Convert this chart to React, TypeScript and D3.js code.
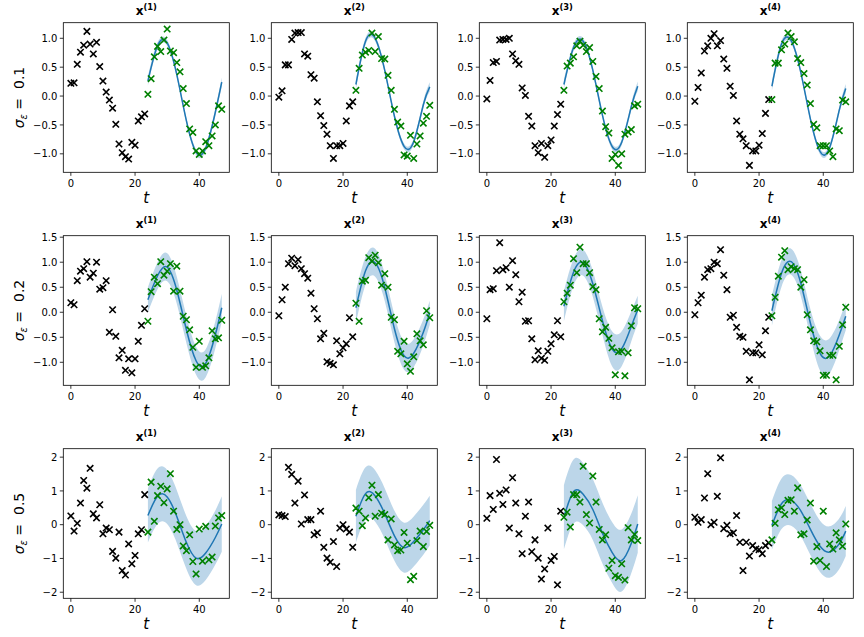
import React from "react";
import * as d3 from "d3";

// ---------- data ----------
const colTitles = ["(1)", "(2)", "(3)", "(4)"];
const noiseLabels = ["0.1", "0.2", "0.5"];
const xTicks = [0, 20, 40];
const knotT = [24, 27, 30, 33, 36, 39, 42, 45, 47];

const yDomains = [
  [-1.32, 1.27],
  [-1.46, 1.53],
  [-2.18, 2.25],
];
const yTicks = [
  [-1, -0.5, 0, 0.5, 1],
  [-1, -0.5, 0, 0.5, 1, 1.5],
  [-2, -1, 0, 1, 2],
];
const yFormats = [".1f", ".1f", "d"];

// observed history (t = 0..23), black
const blackRow1 = [
  [0.22, 0.23, 0.55, 0.76, 0.88, 1.12, 0.9, 0.73, 0.93, 0.51, 0.26, 0.07, -0.07, -0.21, -0.49, -0.83, -0.98, -1.05, -1.09, -0.8, -0.85, -0.43, -0.36, -0.31],
  [-0.02, 0.09, 0.54, 0.54, 0.98, 1.09, 1.1, 1.1, 0.73, 0.69, 0.37, 0.31, -0.1, -0.34, -0.51, -0.66, -0.86, -1.08, -0.86, -0.86, -0.82, -0.43, -0.17, -0.1],
  [-0.05, 0.27, 0.58, 0.6, 0.97, 0.98, 0.98, 1.0, 0.73, 0.61, 0.55, 0.14, 0.01, -0.35, -0.52, -0.86, -0.98, -0.82, -1.06, -0.86, -0.76, -0.52, -0.32, -0.14],
  [-0.09, 0.15, 0.4, 0.78, 0.87, 1.0, 1.08, 0.87, 0.96, 0.64, 0.48, 0.17, 0.01, -0.43, -0.66, -0.74, -0.86, -1.2, -0.95, -0.95, -0.85, -0.65, -0.3, -0.06],
];
const blackRow2 = [
  [0.19, 0.15, 0.63, 0.82, 0.87, 1.01, 0.7, 0.78, 1.0, 0.46, 0.49, 0.63, -0.4, 0.05, -0.48, -0.91, -0.76, -1.16, -0.93, -1.21, -0.93, -0.58, -0.26, 0.07],
  [-0.07, 0.25, 0.5, 0.97, 1.08, 0.93, 1.05, 0.87, 0.77, 0.68, 0.38, 0.07, -0.13, -0.53, -0.42, -0.99, -1.02, -1.05, -0.57, -0.83, -0.71, -0.63, -0.11, -0.49],
  [-0.13, 0.45, 0.47, 0.83, 1.39, 0.85, 0.89, 0.5, 1.03, 0.75, 0.21, 0.4, -0.18, -0.17, -0.53, -0.95, -0.77, -0.92, -0.96, -0.78, -0.63, -0.45, -0.17, -0.49],
  [-0.05, 0.19, 0.34, 0.7, 0.85, 0.87, 1.0, 0.97, 1.25, 0.74, 0.45, -0.1, -0.06, -0.3, -0.48, -0.5, -0.78, -1.35, -0.81, -0.81, -0.65, -0.85, -0.37, -0.1],
];
const blackRow3 = [
  [0.26, -0.19, 0.04, 0.64, 1.31, 1.08, 1.67, 0.32, 0.2, 0.59, -0.27, -0.1, -0.15, -0.79, -0.99, -0.22, -1.36, -1.49, -0.57, -1.16, -0.91, -0.27, -0.15, 0.89],
  [0.29, 0.27, 0.24, 1.7, 1.49, 0.64, 1.29, 0.02, 0.88, 0.15, 0.15, -0.3, -0.24, 0.4, -0.67, -0.99, -1.11, -0.5, -1.24, -0.1, 0.0, -0.13, -0.22, -0.67],
  [0.19, 0.86, 0.45, 1.93, 0.93, 0.6, 1.03, -0.1, 1.39, 0.64, -0.27, -0.86, 0.25, 0.67, -0.8, -0.45, -0.99, -1.61, -1.31, -0.1, -1.06, -0.94, -1.78, 0.4],
  [0.22, 0.07, 0.15, 0.79, 1.51, 0.0, 0.07, 0.84, 1.98, -0.12, -0.02, -0.27, -0.24, 0.27, -0.52, -1.36, -0.52, -0.93, -0.62, -0.72, -0.74, -0.86, -0.62, -0.54],
];

// future observations (t = 24..47), green
const greenRow1 = [
  [0.03, 0.3, 0.68, 0.86, 0.77, 0.97, 1.16, 0.78, 0.75, 0.58, 0.42, 0.13, -0.13, -0.57, -0.63, -0.95, -1.01, -0.95, -0.79, -0.86, -0.69, -0.5, -0.17, -0.23],
  [0.1, 0.48, 0.71, 0.76, 0.79, 1.09, 0.77, 1.03, 0.65, 0.64, 0.36, 0.1, -0.23, -0.45, -0.52, -1.02, -1.04, -0.68, -1.08, -0.83, -0.69, -0.47, -0.35, -0.16],
  [0.1, 0.52, 0.57, 0.68, 0.87, 0.95, 0.88, 0.77, 0.84, 0.6, 0.34, 0.13, -0.26, -0.53, -0.64, -1.08, -1.01, -1.2, -1.0, -0.66, -0.62, -0.58, -0.17, -0.14],
  [-0.06, 0.57, 0.57, 0.8, 0.9, 1.09, 1.03, 0.94, 0.65, 0.58, 0.39, 0.19, -0.13, -0.49, -0.55, -0.86, -0.86, -0.86, -0.95, -1.05, -0.57, -0.6, -0.07, -0.1],
];
const greenRow2 = [
  [-0.18, 0.41, 0.7, 0.57, 1.01, 0.74, 0.82, 0.97, 0.42, 0.92, 0.42, -0.08, -0.15, -0.35, -0.7, -1.1, -0.58, -1.1, -1.07, -0.91, -0.37, -0.53, -0.51, -0.16],
  [0.18, -0.18, 0.62, 0.64, 1.09, 1.02, 1.14, 0.99, 0.54, 0.77, 0.5, -0.1, -0.15, -0.78, -0.83, -0.58, -1.03, -1.18, -0.89, -0.43, -0.57, -0.65, 0.03, -0.11],
  [0.21, 0.38, 0.54, 1.07, 0.79, 1.3, 0.97, 0.97, 0.79, 0.51, 0.45, -0.13, -0.39, -0.3, -0.52, -0.71, -1.25, -0.79, -0.78, -1.27, -0.81, -0.27, 0.09, 0.07],
  [-0.07, 0.3, 0.72, 1.1, 1.23, 0.85, 0.91, 0.87, 0.85, 0.5, 0.65, -0.05, -0.35, -0.57, -0.59, -0.77, -1.26, -1.26, -0.86, -0.86, -1.35, -0.68, -0.25, 0.1],
];
const greenRow3 = [
  [-0.22, 1.26, 0.1, 0.86, 1.14, 0.65, 1.06, 1.51, 0.4, -0.14, 0.0, -0.63, -0.77, -0.3, -1.09, -1.46, -0.13, -1.08, -0.05, -1.04, -0.96, -0.04, 0.2, 0.27],
  [0.49, 0.4, -0.03, 0.2, 0.8, 1.17, 0.25, 0.89, 0.34, 0.3, -0.45, 0.17, -0.6, -0.77, -0.75, -0.23, -0.55, -1.63, -1.53, -0.47, -0.19, -0.65, -0.2, -0.02],
  [0.22, 0.37, -0.07, 0.89, 0.89, 0.67, 1.73, 0.3, 0.05, 1.44, 0.67, -0.14, -0.45, -0.3, -1.29, -1.06, -1.51, -1.56, -1.16, -1.64, -0.09, -0.45, -0.29, -0.47],
  [-0.45, 0.04, 0.44, 0.5, 0.3, 0.72, 0.74, 0.4, 1.09, -0.3, -0.27, 0.14, 0.64, -1.08, -0.65, -1.06, 0.4, -1.24, -0.57, -0.72, -0.24, -0.45, -0.64, 0.02],
];

// predictive mean at knotT
const meanRow1 = [
  [0.26, 0.87, 0.92, 0.37, -0.43, -0.97, -0.9, -0.28, 0.24],
  [0.2, 0.95, 1.0, 0.44, -0.35, -0.87, -0.79, -0.15, 0.16],
  [0.2, 0.84, 0.95, 0.45, -0.33, -0.87, -0.8, -0.18, 0.17],
  [0.17, 0.9, 0.96, 0.41, -0.4, -0.96, -0.89, -0.24, 0.13],
];
const meanRow2 = [
  [0.25, 0.73, 0.9, 0.44, -0.35, -0.97, -1.02, -0.45, 0.09],
  [0.09, 0.83, 0.99, 0.49, -0.33, -0.87, -0.82, -0.4, -0.01],
  [0.12, 0.8, 0.99, 0.57, -0.17, -0.73, -0.73, -0.28, 0.05],
  [0.03, 0.78, 1.01, 0.58, -0.22, -0.82, -0.87, -0.45, -0.08],
];
const meanRow3 = [
  [0.27, 0.84, 0.82, 0.24, -0.53, -0.99, -0.84, -0.38, 0.02],
  [0.25, 0.92, 0.85, 0.32, -0.33, -0.68, -0.5, -0.15, 0.12],
  [0.22, 0.98, 0.9, 0.45, -0.25, -0.82, -1.06, -0.55, 0.02],
  [-0.02, 0.62, 0.72, 0.41, -0.14, -0.64, -0.81, -0.56, -0.19],
];

// predictive band half-width at knotT
const bandRow1 = [
  [0.08, 0.06, 0.05, 0.05, 0.05, 0.05, 0.05, 0.06, 0.08],
  [0.08, 0.06, 0.05, 0.05, 0.05, 0.05, 0.05, 0.06, 0.08],
  [0.08, 0.06, 0.05, 0.05, 0.05, 0.05, 0.05, 0.06, 0.08],
  [0.08, 0.06, 0.05, 0.05, 0.05, 0.05, 0.05, 0.06, 0.08],
];
const bandRow2 = [
  [0.25, 0.27, 0.28, 0.27, 0.27, 0.28, 0.28, 0.27, 0.28],
  [0.32, 0.28, 0.28, 0.27, 0.27, 0.28, 0.28, 0.26, 0.24],
  [0.3, 0.27, 0.26, 0.26, 0.28, 0.35, 0.35, 0.3, 0.28],
  [0.3, 0.27, 0.26, 0.26, 0.28, 0.35, 0.35, 0.3, 0.28],
];
const bandRow3 = [
  [0.8, 0.82, 0.8, 0.78, 0.78, 0.8, 0.8, 0.8, 0.82],
  [0.78, 0.78, 0.76, 0.75, 0.74, 0.74, 0.74, 0.74, 0.74],
  [0.95, 0.95, 0.92, 0.9, 0.9, 0.9, 0.92, 0.88, 0.85],
  [0.72, 0.75, 0.75, 0.75, 0.76, 0.76, 0.76, 0.75, 0.74],
];

const blackRows = [blackRow1, blackRow2, blackRow3];
const greenRows = [greenRow1, greenRow2, greenRow3];
const meanRows = [meanRow1, meanRow2, meanRow3];
const bandRows = [bandRow1, bandRow2, bandRow3];

// ---------- layout ----------
const W = 864;
const H = 637;
const left0 = 63.3;
const colStep = 208;
const axW = 166;
const top0 = 22.7;
const rowStep = 213;
const axH = 149.6;
const xDomain = [-2.35, 49.35];

const BLUE = "#1f77b4";
const BAND = "#bcd6e9";
const GREEN = "#008000";

function Cross({ cx, cy, color }: { cx: number; cy: number; color: string }) {
  const s = 3.2;
  return (
    <path
      d={`M${cx - s},${cy - s}L${cx + s},${cy + s}M${cx - s},${cy + s}L${cx + s},${cy - s}`}
      stroke={color}
      strokeWidth={1.6}
      fill="none"
    />
  );
}

function Panel({ r, c }: { r: number; c: number }) {
  const left = left0 + c * colStep;
  const top = top0 + r * rowStep;
  const x = d3.scaleLinear().domain(xDomain).range([left, left + axW]);
  const y = d3.scaleLinear().domain(yDomains[r]).range([top + axH, top]);
  const fmt = d3.format(yFormats[r]);
  const black = blackRows[r][c];
  const green = greenRows[r][c];
  const mean = meanRows[r][c];
  const band = bandRows[r][c];
  const pts = knotT.map((t, i) => ({ t, m: mean[i], w: band[i] }));
  const line = d3
    .line<{ t: number; m: number }>()
    .x((d) => x(d.t))
    .y((d) => y(d.m))
    .curve(d3.curveNatural);
  const area = d3
    .area<{ t: number; m: number; w: number }>()
    .x((d) => x(d.t))
    .y0((d) => y(d.m - d.w))
    .y1((d) => y(d.m + d.w))
    .curve(d3.curveNatural);
  const bottom = top + axH;
  const cx = left + axW / 2;
  return (
    <g>
      <path d={area(pts) || ""} fill={BAND} stroke="none" />
      <path d={line(pts) || ""} fill="none" stroke={BLUE} strokeWidth={1.5} />
      {black.map((v, i) => (
        <Cross key={"b" + i} cx={x(i)} cy={y(v)} color="#000" />
      ))}
      {green.map((v, i) => (
        <Cross key={"g" + i} cx={x(24 + i)} cy={y(v)} color={GREEN} />
      ))}
      <rect x={left} y={top} width={axW} height={axH} fill="none" stroke="#000" strokeWidth={0.8} />
      {yTicks[r].map((tv) => (
        <g key={"yt" + tv}>
          <line x1={left - 3.5} x2={left} y1={y(tv)} y2={y(tv)} stroke="#000" strokeWidth={0.8} />
          <text x={left - 6} y={y(tv)} dy="0.36em" textAnchor="end" fontSize={10} fill="#000">
            {fmt(tv)}
          </text>
        </g>
      ))}
      {xTicks.map((tv) => (
        <g key={"xt" + tv}>
          <line x1={x(tv)} x2={x(tv)} y1={bottom} y2={bottom + 3.5} stroke="#000" strokeWidth={0.8} />
          <text x={x(tv)} y={bottom + 14.8} textAnchor="middle" fontSize={10} fill="#000">
            {fmt === null ? "" : d3.format("d")(tv)}
          </text>
        </g>
      ))}
      <text x={cx} y={bottom + 31} textAnchor="middle" fontSize={15} fontStyle="italic" fill="#000">
        t
      </text>
      <text x={cx} y={top - 7.8} textAnchor="middle" fill="#000" fontWeight="bold">
        <tspan fontSize={12}>x</tspan>
        <tspan fontSize={8.4} dy={-5}>
          {colTitles[c]}
        </tspan>
      </text>
    </g>
  );
}

export default function App() {
  return (
    <svg
      width={W}
      height={H}
      style={{ position: "absolute", left: 0, top: 0, background: "#fff" }}
      fontFamily="DejaVu Sans"
    >
      <rect x={0} y={0} width={W} height={H} fill="#fff" />
      {noiseLabels.map((lab, r) => {
        const cy = top0 + r * rowStep + axH / 2;
        return (
          <text
            key={"rl" + r}
            transform={`translate(24,${cy}) rotate(-90)`}
            textAnchor="middle"
            fontSize={14}
            fill="#000"
            style={{ whiteSpace: "pre" }}
          >
            <tspan fontStyle="italic">σ</tspan>
            <tspan fontStyle="italic" fontSize={9.8} dy={3}>
              ε
            </tspan>
            <tspan dy={-3}>{" =  " + lab}</tspan>
          </text>
        );
      })}
      {blackRows.map((row, r) => row.map((_, c) => <Panel key={r + "-" + c} r={r} c={c} />))}
    </svg>
  );
}
